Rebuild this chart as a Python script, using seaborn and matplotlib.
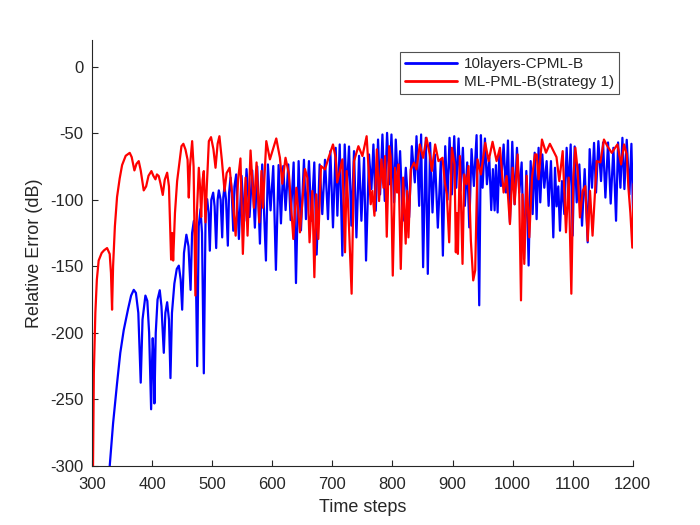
import matplotlib
matplotlib.use("Agg")
import matplotlib.pyplot as plt
import seaborn as sns
import pandas as pd

# ---- data (vertices: peaks / troughs) ----
series_names = ["10layers-CPML-B", "ML-PML-B(strategy 1)"]
x_ticks = [300, 400, 500, 600, 700, 800, 900, 1000, 1100, 1200]
y_ticks = [-300, -250, -200, -150, -100, -50, 0]

blue_t = [328, 329.4, 335, 341.6, 347, 352.7, 360, 365, 369.4, 373, 377, 381, 384, 388.8, 392, 395, 398.3, 400, 401, 402.5,
          403.8, 406, 409, 412.7, 415.5, 419.4, 422, 425, 428, 430.5, 433, 437, 441, 444.4, 447.5, 450, 453, 457, 460.5, 464,
          466.5, 469.4, 472, 475, 477.5, 480.5, 483, 486, 489, 491.6, 494, 496, 498.5, 501.6, 504, 506.6, 509, 511, 514, 516.6,
          518.5, 520.5, 523, 526, 528, 530.5, 532.5, 535, 537, 539.9, 544.4, 548.8, 553.2, 557.1, 562.1, 566.6, 571, 574.9, 579.4, 583.2,
          589.4, 592.7, 597.1, 601.6, 606, 610.5, 614.4, 618.2, 622.1, 626.6, 630.5, 635.5, 639.4, 643.8, 647.7, 652.7, 656, 661, 664.9, 669.9,
          673.8, 678.8, 683.2, 687.7, 692.7, 696.6, 701, 705.5, 708.3, 712.2, 716.6, 720.5, 723.8, 727.7, 731.6, 736, 740, 744.4, 748.3, 752.7,
          756, 761, 765, 768.3, 772.2, 776, 779.4, 783.3, 787.2, 791, 795, 798.3, 802.7, 805.5, 809.4, 812.7, 817.2, 822.2, 827.7, 832.2,
          837.2, 840, 844.4, 847.7, 851, 855.5, 858.8, 862.7, 866.6, 870.5, 875.5, 880.5, 883.9, 887.8, 891.6, 895, 898.9, 902.8, 906.1, 910,
          913.3, 917.2, 920.5, 924.4, 927.8, 931.6, 935.5, 940, 944.4, 947.2, 950, 953.9, 957.2, 961.1, 964.4, 967.2, 970, 972.2, 975, 977.8,
          980.5, 985, 988.9, 992.2, 995.5, 999.4, 1003.3, 1007.2, 1011.1, 1015, 1018.9, 1022.8, 1026.6, 1030, 1033.3, 1036.7, 1039.9, 1043.2, 1046, 1049.4,
          1052.7, 1056.6, 1059.9, 1063.8, 1067.7, 1070.5, 1073.2, 1076, 1078.8, 1082.1, 1086, 1089.9, 1093.2, 1096.6, 1099.9, 1103.2, 1106.6, 1111, 1115.5, 1119.9,
          1124.9, 1128.2, 1132.1, 1135.5, 1138.8, 1142.7, 1147.1, 1150.5, 1154.4, 1158.8, 1163.2, 1167.7, 1172.1, 1175.5, 1179.4, 1182.7, 1186, 1189.9, 1194.4, 1197.7,
          1200.8]
blue_db = [-320, -300, -268, -238, -215, -198, -182, -172, -167.7, -170, -185, -237.4, -190, -172, -176, -200, -257.4, -220, -204, -220,
           -253, -200, -175, -168, -180, -215, -185, -177, -190, -234, -185, -163, -152, -149.5, -160, -182.6, -140, -126.3, -135, -167.7,
           -125, -115.9, -130, -225, -120, -107, -125, -230.4, -110, -99.6, -110, -138.3, -100, -94.7, -105, -136.3, -100, -93, -100, -128.3,
           -98, -89.7, -100, -134.5, -95, -83.4, -95, -123.3, -90, -81, -129.5, -82, -116, -77, -113, -78, -121, -75, -133, -73.5,
           -145.7, -73.5, -108, -74.7, -152.7, -74, -117.8, -74.7, -107.8, -73.5, -115.3, -72, -162.6, -71, -123, -70, -114.6, -71, -115.8, -72,
           -141.2, -73.5, -110.8, -70, -114.6, -63.5, -120.8, -61, -112, -58.5, -142, -58.5, -96, -60, -119.5, -63.5, -128.3, -67, -115.8, -68.5,
           -145.7, -66, -92, -58.5, -108.3, -54.8, -96, -51, -100.9, -49.8, -88.4, -51, -102, -54.8, -91, -63.5, -115.8, -76, -113.3, -59.8,
           -87, -52.3, -104.6, -51, -150.7, -53.5, -155.7, -57.3, -109.6, -66, -121, -70, -142, -59.8, -100, -53.5, -96, -52.3, -91, -54,
           -93.4, -61, -104.6, -72, -120.8, -62, -89.7, -51.5, -179.3, -51.5, -91, -54, -88.4, -68.5, -107.8, -77, -108, -74, -109.6, -66,
           -89.7, -58.5, -94.6, -55.5, -117, -56.5, -103.4, -61, -94.6, -72, -144.5, -78.4, -149.4, -71, -110.8, -64.7, -114.6, -61, -102, -66,
           -91, -71, -104.6, -71, -128.3, -76, -105, -90, -123.3, -86, -110.8, -61, -95, -58.5, -127, -60, -102, -73.5, -119.5, -77,
           -132, -62, -91, -57.3, -94.6, -56, -86, -57, -98.4, -57, -102.9, -61, -115.8, -57, -91, -53.5, -92, -55, -96, -58,
           -118]

red_t = [300, 301.6, 303, 305.5, 308, 311, 316, 320, 325, 329.4, 331.5, 333.3, 335, 338, 341.6, 346, 350, 356, 362.7, 366,
         370.5, 374, 377.7, 381, 386, 390, 394, 398.8, 402, 405.5, 408, 411, 414, 417.7, 421, 425, 428, 431.6, 433.3, 435,
         438, 441.6, 448.8, 452, 455.5, 459, 461, 463, 466.6, 469, 472, 474.5, 477.7, 480, 481.6, 484, 486, 488.8, 491, 494.4,
         498, 502, 505.5, 509, 512, 516, 520.5, 524, 529, 534, 539, 543, 547, 551, 555.5, 558.8, 563.8, 569.4, 573.8, 578.3,
         582, 584.4, 590, 596, 606.6, 612.7, 616.6, 622, 627.7, 635, 640, 646, 654.4, 658.3, 662, 666.6, 670, 673.3, 676.6, 681,
         687.7, 694, 701, 705.5, 708, 716.6, 721, 723.8, 727.7, 732, 736, 743.3, 750, 757, 763.8, 766.6, 770, 774, 777.7, 781.6,
         785, 787.7, 790.5, 794.4, 797, 800.5, 804.4, 807.7, 810, 813.8, 817.7, 820.5, 822, 824.4, 826.6, 830.5, 836, 840, 845.5, 851,
         856.6, 862, 865.5, 871, 876.6, 883.3, 887.2, 890.5, 894.4, 898.9, 903.3, 905.5, 907, 908.9, 912.2, 916.6, 919.4, 923.3, 926.6, 930.5,
         934.4, 937.7, 941.6, 947.2, 954.4, 960, 966.6, 973.3, 978.9, 985, 990, 995.5, 1000, 1003.3, 1008.3, 1011, 1013.9, 1016.6, 1019.4, 1023.3,
         1027.7, 1032.2, 1037.2, 1040, 1043.2, 1048.8, 1055.5, 1062, 1069.4, 1073, 1077.7, 1083.3, 1088.8, 1093.3, 1097.7, 1101, 1104.4, 1108.3, 1112, 1116.6,
         1121, 1125, 1128.8, 1133, 1140, 1146, 1152, 1158, 1165, 1170.5, 1174.4, 1180.5, 1185.5, 1190, 1192.7, 1196, 1199.2, 1201.5]
red_db = [-330, -300, -230, -185, -160, -145.7, -140, -138, -136.3, -140.8, -155, -182.6, -150, -120, -98, -84, -74, -67, -64.8, -68,
          -78, -73, -71, -78, -93, -90, -82, -78.5, -82, -84.7, -81, -82.2, -88, -96.4, -85, -79.7, -90, -145, -125, -145.7,
          -110, -86, -59.8, -58, -62.3, -70, -98.4, -75, -56, -75, -172, -110, -76, -92, -113, -85, -78.5, -117, -90, -56,
          -53, -62, -76, -58, -52.3, -70, -93.4, -80, -76, -100, -127, -85, -69, -140.7, -83.4, -127, -63, -106, -72, -117,
          -78.4, -106, -56, -69.7, -54, -68.5, -88, -68.5, -81, -129.5, -91, -124.5, -77, -83.4, -132, -93.4, -158.2, -96, -129.5, -74.7,
          -77.2, -68, -58.5, -68.5, -87, -69.7, -139.5, -78.4, -120.8, -170.6, -71, -59.8, -67.2, -52.3, -103.4, -93.4, -112, -62.2, -101, -69.7,
          -91, -67.2, -127.8, -59.8, -68, -157, -76, -94.6, -73.5, -152, -83.4, -115.8, -133, -93.4, -128.3, -77.2, -72.2, -77.2, -58.5, -68.5,
          -53.5, -66, -78.4, -58.5, -71, -68.5, -87, -96, -132, -61, -73.5, -139.5, -110, -140.7, -67.2, -148.2, -81, -88.4, -74.7, -130.8,
          -160.6, -153, -69.7, -81, -57.3, -71, -56.5, -71, -61, -94.6, -82.2, -118.3, -76, -103.4, -66, -96, -175.6, -96, -148.2, -82,
          -128.3, -83.4, -66, -66, -84.7, -54.8, -64.7, -58, -64.7, -68, -86, -63.5, -124.5, -83.4, -170.6, -83.4, -61, -78.4, -113.3, -93.4,
          -89.7, -130.8, -93.4, -127, -71, -72, -54.8, -60, -64.8, -61, -58.5, -73.5, -58.5, -66, -91, -110, -136, -88]

# ---- style ----
sns.set_style("ticks")
plt.rcParams["font.family"] = ["Liberation Sans", "DejaVu Sans"]
plt.rcParams["axes.unicode_minus"] = False
axis_color = "#262626"

fig = plt.figure(figsize=(7.0, 5.25), dpi=100)
ax = fig.add_axes([0.1315, 0.1124, 0.7725, 0.8115])

df_b = pd.DataFrame({"t": blue_t, "db": blue_db})
df_r = pd.DataFrame({"t": red_t, "db": red_db})
sns.lineplot(data=df_b, x="t", y="db", sort=False, estimator=None, color=(0, 0, 1),
             lw=1.6, ax=ax, label=series_names[0])
sns.lineplot(data=df_r, x="t", y="db", sort=False, estimator=None, color=(1, 0, 0),
             lw=1.6, ax=ax, label=series_names[1])

ax.set_xlim(300, 1200)
ax.set_ylim(-300, 20)
ax.set_xticks(x_ticks)
ax.set_yticks(y_ticks)
ax.tick_params(direction="in", length=4, width=0.8, labelsize=12, colors=axis_color)
ax.tick_params(axis="x", pad=8)
ax.tick_params(axis="y", pad=6)
for s in ["top", "right"]:
    ax.spines[s].set_visible(False)
for s in ["left", "bottom"]:
    ax.spines[s].set_color(axis_color)
    ax.spines[s].set_linewidth(0.8)

ax.set_xlabel("Time steps", fontsize=13, color=axis_color, labelpad=5)
ax.set_ylabel("Relative Error (dB)", fontsize=13, color=axis_color, labelpad=5)

leg = ax.legend(loc="upper right", bbox_to_anchor=(0.975, 0.972), fontsize=11,
                frameon=True, fancybox=False, edgecolor="#262626", handlelength=3.4,
                handletextpad=0.45, borderpad=0.35, labelspacing=0.25, borderaxespad=0)
leg.get_frame().set_linewidth(0.8)
for line in leg.get_lines():
    line.set_linewidth(2.0)

fig.savefig("out.png", dpi=100)
